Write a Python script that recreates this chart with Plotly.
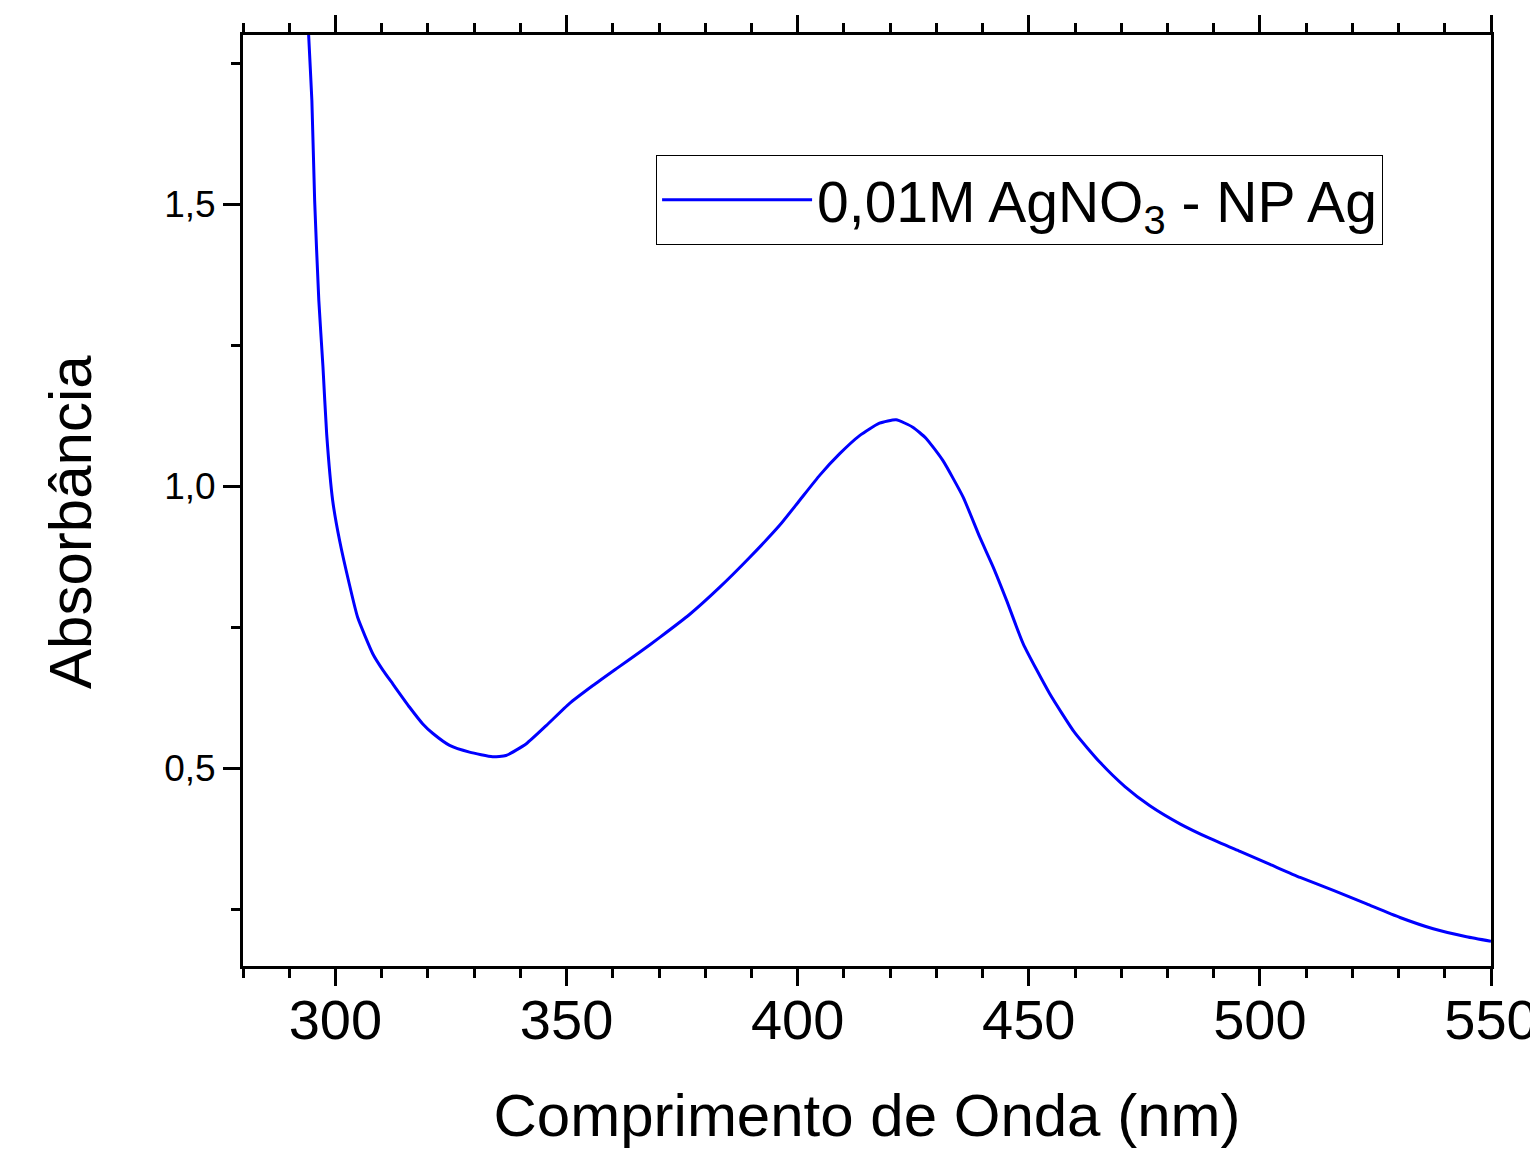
import plotly.graph_objects as go

wavelength = [294.0, 294.2, 294.9, 295.5, 296.4, 297.3, 298.1, 299.4, 300.9, 303.0, 304.8,
              308.1, 310.3, 312.4, 316.0, 318.9, 321.1, 324.7, 329.0, 334.0, 336.9, 341.3,
              345.6, 350.6, 355.7, 360.8, 365.8, 370.1, 376.6, 383.1, 389.6, 396.1, 400.4,
              404.8, 409.1, 413.4, 417.7, 421.3, 424.9, 427.8, 431.4, 435.8, 439.4, 442.3,
              445.2, 448.8, 454.5, 459.9, 465.4, 470.8, 476.2, 482.7, 489.2, 495.7, 502.2,
              508.7, 515.9, 523.1, 530.3, 537.5, 544.7, 550.0]
absorbance = [1.86, 1.80, 1.684, 1.507, 1.33, 1.212, 1.093, 0.975, 0.904, 0.827, 0.768,
              0.703, 0.674, 0.650, 0.609, 0.579, 0.562, 0.541, 0.529, 0.521, 0.523, 0.544,
              0.576, 0.615, 0.647, 0.677, 0.706, 0.732, 0.773, 0.821, 0.874, 0.931, 0.975,
              1.020, 1.058, 1.090, 1.112, 1.118, 1.105, 1.085, 1.046, 0.981, 0.910, 0.857,
              0.798, 0.721, 0.633, 0.564, 0.511, 0.468, 0.434, 0.402, 0.376, 0.353, 0.330,
              0.307, 0.284, 0.260, 0.236, 0.216, 0.202, 0.194]

x_ticks = [300, 350, 400, 450, 500, 550]
y_ticks = [0.5, 1.0, 1.5]
y_tick_labels = ["0,5", "1,0", "1,5"]
series_name = "0,01M AgNO<sub>3</sub> - NP Ag"
x_title = "Comprimento de Onda (nm)"
y_title = "Absorbância"

FONT = "Liberation Sans, Arial, sans-serif"

fig = go.Figure()
fig.add_trace(go.Scatter(
    x=wavelength, y=absorbance, mode="lines", name=series_name,
    line=dict(color="#0000FF", width=3, shape="spline", smoothing=0.5),
))

fig.update_layout(
    width=1538, height=1148,
    paper_bgcolor="white", plot_bgcolor="white",
    margin=dict(l=235, r=55, t=27, b=190),
    font=dict(family=FONT, color="black"),
    showlegend=True,
    legend=dict(
        x=0.331, y=0.871, xanchor="left", yanchor="top",
        bordercolor="black", borderwidth=1, bgcolor="white",
        font=dict(size=57, family=FONT), itemwidth=150,
    ),
    annotations=[dict(
        text=y_title, textangle=-90, xref="paper", yref="paper",
        x=-0.1378, y=0.477, xanchor="center", yanchor="middle", showarrow=False,
        font=dict(size=60, family=FONT, color="black"),
    )],
)

fig.update_xaxes(
    range=[280, 550], tickmode="array", tickvals=x_ticks, automargin=False,
    ticks="outside", ticklen=17, tickwidth=3, tickcolor="black",
    showline=True, linewidth=3, linecolor="black", mirror="allticks",
    showgrid=False, zeroline=False, ticklabelstandoff=-14,
    tickfont=dict(size=56, family=FONT),
    minor=dict(dtick=10, ticks="outside", ticklen=9, tickwidth=3, tickcolor="black", showgrid=False),
    title=dict(text=x_title, font=dict(size=60, family=FONT), standoff=44),
)
fig.update_yaxes(
    range=[0.15, 1.8], tickmode="array", tickvals=y_ticks, ticktext=y_tick_labels, automargin=False,
    ticks="outside", ticklen=17, tickwidth=3, tickcolor="black",
    showline=True, linewidth=3, linecolor="black", mirror=True,
    showgrid=False, zeroline=False,
    tickfont=dict(size=37, family=FONT),
    minor=dict(tickvals=[0.25, 0.75, 1.25, 1.75], ticks="outside", ticklen=9, tickwidth=3,
               tickcolor="black", showgrid=False),
)

fig.write_html("out.html")
